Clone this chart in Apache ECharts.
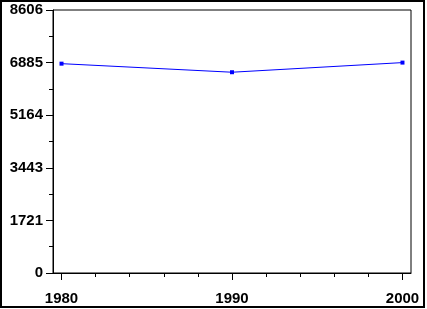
<!DOCTYPE html>
<html><head><meta charset="utf-8">
<script src="https://cdn.jsdelivr.net/npm/echarts@6/dist/echarts.min.js"></script>
<style>html,body{margin:0;padding:0;background:#fff}#c{width:427px;height:309px}</style>
</head><body><div id="c"></div>
<script>
var years = [1980, 1990, 2000];
var values = [6850, 6570, 6885];
var majorTicks = [1980, 1990, 2000];
var minorTicks = [1982, 1984, 1986, 1988, 1992, 1994, 1996, 1998];
var yMax = 8606.25;
var yInterval = 1721.25;

var chart = echarts.init(document.getElementById('c'), null, {renderer: 'canvas'});
var font = {fontFamily: 'Liberation Sans', fontSize: 15, fontWeight: 'bold', color: '#000'};
chart.setOption({
  animation: false,
  backgroundColor: '#fff',
  graphic: [{type: 'rect', shape: {x: 1, y: 1, width: 423, height: 306}, style: {fill: 'none', stroke: '#000', lineWidth: 2}}],
  grid: {left: 53, top: 10, right: 16, bottom: 36, show: true, borderColor: '#000', borderWidth: 1, backgroundColor: 'transparent'},
  xAxis: [{
    type: 'value', min: 1979.5, max: 2000.5,
    axisLine: {show: true, lineStyle: {color: '#000', width: 1}},
    axisTick: {show: true, customValues: majorTicks, length: 7, lineStyle: {color: '#000'}},
    axisLabel: Object.assign({customValues: majorTicks, margin: 18, formatter: function(v){return String(v);}}, font),
    splitLine: {show: false}
  }, {
    type: 'value', min: 1979.5, max: 2000.5, position: 'bottom',
    axisLine: {show: false},
    axisTick: {show: true, customValues: minorTicks, length: 4, lineStyle: {color: '#000'}},
    axisLabel: {show: false},
    splitLine: {show: false}
  }],
  yAxis: {
    type: 'value', min: 0, max: yMax, interval: yInterval,
    axisLine: {show: true, lineStyle: {color: '#000', width: 1}},
    axisTick: {show: true, length: 7, lineStyle: {color: '#000'}},
    minorTick: {show: true, splitNumber: 2, length: 4, lineStyle: {color: '#000'}},
    axisLabel: Object.assign({margin: 10, formatter: function(v){return String(Math.round(v));}}, font),
    splitLine: {show: false}
  },
  series: [{
    type: 'line',
    data: years.map(function(y, i){return [y, values[i]];}),
    symbol: 'rect', symbolSize: 4, showSymbol: true,
    lineStyle: {color: '#0000ff', width: 1},
    itemStyle: {color: '#0000ff'}
  }]
});
</script></body></html>
